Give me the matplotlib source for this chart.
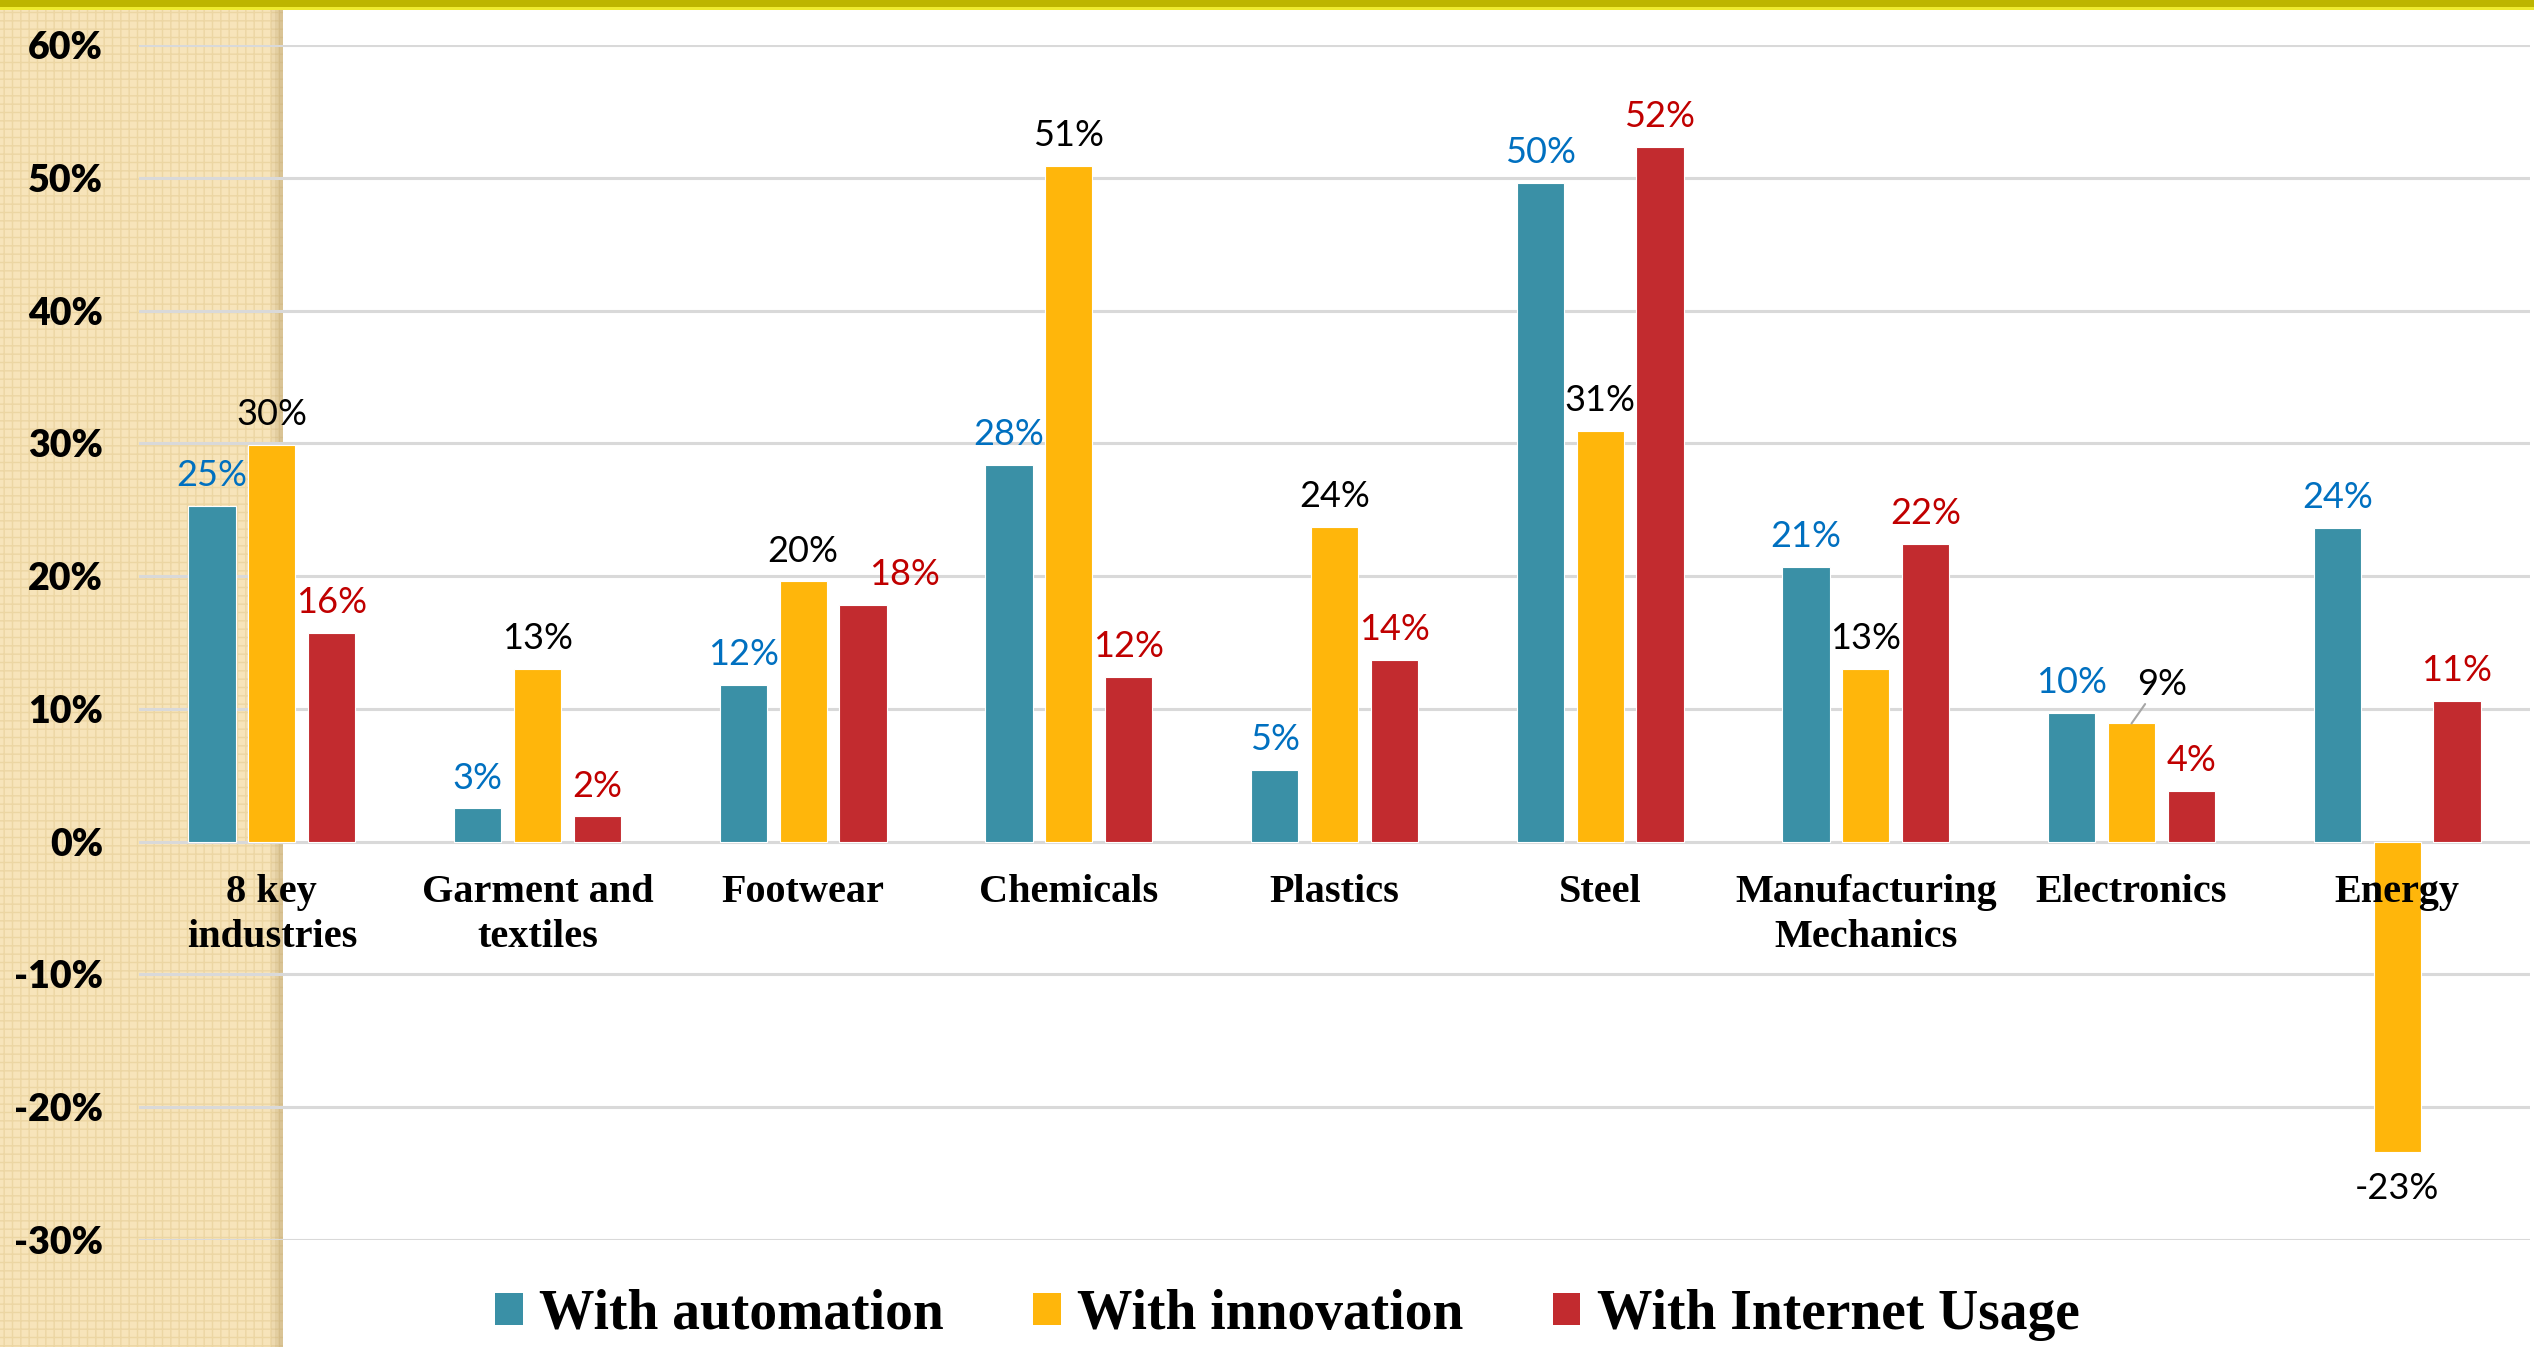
import numpy as np
import matplotlib.pyplot as plt
from matplotlib.patches import Rectangle, Patch

# values (%)
categories = ["8 key\nindustries", "Garment and\ntextiles", "Footwear", "Chemicals", "Plastics",
              "Steel", "Manufacturing\nMechanics", "Electronics", "Energy"]
automation = [25.3, 2.5, 11.8, 28.4, 5.4, 49.6, 20.7, 9.7, 23.6]
innovation = [29.9, 13.0, 19.6, 50.9, 23.7, 30.9, 13.0, 8.9, -23.4]
internet = [15.7, 1.9, 17.8, 12.4, 13.7, 52.3, 22.4, 3.8, 10.6]
auto_labels = ["25%", "3%", "12%", "28%", "5%", "50%", "21%", "10%", "24%"]
innov_labels = ["30%", "13%", "20%", "51%", "24%", "31%", "13%", "9%", "-23%"]
net_labels = ["16%", "2%", "18%", "12%", "14%", "52%", "22%", "4%", "11%"]
series_names = ["With automation", "With innovation", "With Internet Usage"]
yticks = [-30, -20, -10, 0, 10, 20, 30, 40, 50, 60]

bar_colors = ["#3A90A6", "#FFB60B", "#C22B2F"]
label_colors = ["#0070C0", "#000000", "#C00000"]

W, H = 2534, 1347
fig = plt.figure(figsize=(W / 100, H / 100), dpi=100)
fig.patch.set_facecolor("white")

# tan side panel with small checker pattern
fig.patches.append(Rectangle((0, 0), 283 / W, 1 - 9 / H, transform=fig.transFigure,
                             facecolor="#F7E4BA", edgecolor="#ECD6A3", hatch="++",
                             linewidth=0, zorder=-10))
for k, a in enumerate([0.15, 0.3, 0.45]):
    fig.patches.append(Rectangle(((271 + 4 * k) / W, 0), 4 / W, 1 - 9 / H,
                                 transform=fig.transFigure, facecolor="#B89E6A",
                                 alpha=a, linewidth=0, zorder=-9))
# olive bar along the top
fig.patches.append(Rectangle((0, 1 - 10 / H), 1, 10 / H, transform=fig.transFigure,
                             facecolor="#BDB500", linewidth=0, zorder=-8))
fig.patches.append(Rectangle((0, 1 - 10 / H), 1, 3 / H, transform=fig.transFigure,
                             facecolor="#EEEA30", linewidth=0, zorder=-7))

ax = fig.add_axes([139 / W, 1 - 1240 / H, (2530 - 139) / W, (1240 - 45) / H])
ax.set_facecolor("none")

x = np.arange(len(categories))
off = 0.225
bw = 0.178
all_vals = [automation, innovation, internet]
all_labels = [auto_labels, innov_labels, net_labels]

for s in range(3):
    xs = x + (s - 1) * off
    ax.bar(xs, all_vals[s], width=bw, color=bar_colors[s], edgecolor="white",
           linewidth=0.8, zorder=3)
    for i in range(len(categories)):
        v = all_vals[s][i]
        dx, dy, va = 0, 10, "bottom"
        arrow = None
        if v < 0:
            dy, va = -14, "top"
        if s == 2 and i == 2:
            dx, dy = 30, 10
        if s == 1 and i == 7:
            dx, dy = 22, 16
            arrow = dict(arrowstyle="-", color="#A6A6A6", lw=1.5,
                         shrinkA=0, shrinkB=0, relpos=(0.2, 0.0))
        ax.annotate(all_labels[s][i], xy=(xs[i], v), xytext=(dx, dy),
                    textcoords="offset points", ha="center", va=va,
                    fontsize=26, family="Lato", color=label_colors[s],
                    arrowprops=arrow, zorder=5, annotation_clip=False)

ax.set_xlim(-0.5, len(categories) - 0.5)
ax.set_ylim(-30, 60)
ax.set_yticks(yticks)
ax.set_yticklabels([f"{v}%" for v in yticks], fontsize=27, family="Lato",
                   fontweight="heavy")
ax.tick_params(axis="y", length=0, pad=26)
ax.set_xticks([])
ax.yaxis.grid(True, color="#D9D9D9", linewidth=2.2)
ax.set_axisbelow(True)
for sp in ax.spines.values():
    sp.set_visible(False)

for i, c in enumerate(categories):
    ax.text(x[i], -2.4, c, ha="center", va="top", fontsize=29,
            family="Liberation Serif", fontweight="bold", linespacing=1.3, zorder=4)

handles = [Patch(facecolor=c, edgecolor="none") for c in bar_colors]
fig.legend(handles, series_names, loc="center", bbox_to_anchor=(0.508, 0.024), ncol=3,
           frameon=False, prop=dict(family="Liberation Serif", weight="bold", size=40),
           handlelength=0.5, handleheight=0.5, handletextpad=0.3, columnspacing=1.6)

fig.savefig("out.png", dpi=100)
